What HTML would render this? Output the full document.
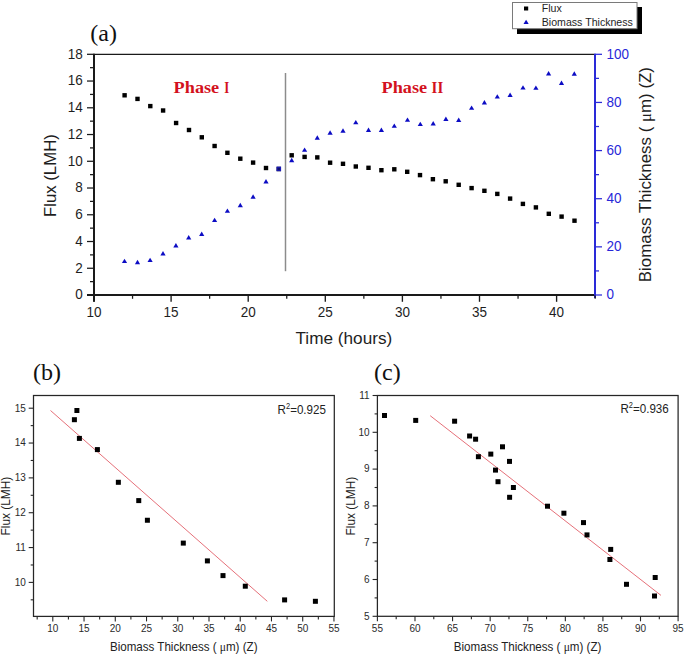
<!DOCTYPE html>
<html><head><meta charset="utf-8"><style>
html,body{margin:0;padding:0;background:#fff;}
body{width:685px;height:655px;overflow:hidden;}
svg{display:block;}
text{font-family:"Liberation Sans",sans-serif;fill:#1e1e1e;}
.ta{font-size:13.5px;}
.tab{fill:#2828d8;}
.tt{font-size:17px;}
.tb{font-size:10px;fill:#2a2a2a;}
.tbt{font-size:11.6px;fill:#222;}
.tr{font-size:11.6px;fill:#222;}
.sup{font-size:7.5px;}
.lg{font-size:10.6px;}
.mu{font-family:"Liberation Serif",serif;}
.lab{font-family:"Liberation Serif",serif;font-size:24px;fill:#111;}
.ph{font-family:"Liberation Serif",serif;font-weight:bold;font-size:17.5px;fill:#d3111d;}
</style></head><body>
<svg width="685" height="655" viewBox="0 0 685 655">
<rect width="685" height="655" fill="#fff"/>
<line x1="94.0" y1="54.3" x2="595.0" y2="54.3" stroke="#1a1a1a" stroke-width="1.2"/>
<line x1="94.0" y1="53.699999999999996" x2="94.0" y2="301.8" stroke="#1a1a1a" stroke-width="2"/>
<line x1="87.0" y1="295.0" x2="595.0" y2="295.0" stroke="#1a1a1a" stroke-width="2"/>
<line x1="595.0" y1="53.699999999999996" x2="595.0" y2="298.0" stroke="#2a2ad8" stroke-width="2"/>
<line x1="87.0" y1="295.00" x2="94.0" y2="295.00" stroke="#1a1a1a" stroke-width="1.25"/>
<text transform="translate(82.8 299.30) scale(1 1.06)" text-anchor="end" class="ta">0</text>
<line x1="90.0" y1="281.63" x2="94.0" y2="281.63" stroke="#1a1a1a" stroke-width="1.25"/>
<line x1="87.0" y1="268.26" x2="94.0" y2="268.26" stroke="#1a1a1a" stroke-width="1.25"/>
<text transform="translate(82.8 272.56) scale(1 1.06)" text-anchor="end" class="ta">2</text>
<line x1="90.0" y1="254.88" x2="94.0" y2="254.88" stroke="#1a1a1a" stroke-width="1.25"/>
<line x1="87.0" y1="241.51" x2="94.0" y2="241.51" stroke="#1a1a1a" stroke-width="1.25"/>
<text transform="translate(82.8 245.81) scale(1 1.06)" text-anchor="end" class="ta">4</text>
<line x1="90.0" y1="228.14" x2="94.0" y2="228.14" stroke="#1a1a1a" stroke-width="1.25"/>
<line x1="87.0" y1="214.77" x2="94.0" y2="214.77" stroke="#1a1a1a" stroke-width="1.25"/>
<text transform="translate(82.8 219.07) scale(1 1.06)" text-anchor="end" class="ta">6</text>
<line x1="90.0" y1="201.39" x2="94.0" y2="201.39" stroke="#1a1a1a" stroke-width="1.25"/>
<line x1="87.0" y1="188.02" x2="94.0" y2="188.02" stroke="#1a1a1a" stroke-width="1.25"/>
<text transform="translate(82.8 192.32) scale(1 1.06)" text-anchor="end" class="ta">8</text>
<line x1="90.0" y1="174.65" x2="94.0" y2="174.65" stroke="#1a1a1a" stroke-width="1.25"/>
<line x1="87.0" y1="161.28" x2="94.0" y2="161.28" stroke="#1a1a1a" stroke-width="1.25"/>
<text transform="translate(82.8 165.58) scale(1 1.06)" text-anchor="end" class="ta">10</text>
<line x1="90.0" y1="147.91" x2="94.0" y2="147.91" stroke="#1a1a1a" stroke-width="1.25"/>
<line x1="87.0" y1="134.53" x2="94.0" y2="134.53" stroke="#1a1a1a" stroke-width="1.25"/>
<text transform="translate(82.8 138.83) scale(1 1.06)" text-anchor="end" class="ta">12</text>
<line x1="90.0" y1="121.16" x2="94.0" y2="121.16" stroke="#1a1a1a" stroke-width="1.25"/>
<line x1="87.0" y1="107.79" x2="94.0" y2="107.79" stroke="#1a1a1a" stroke-width="1.25"/>
<text transform="translate(82.8 112.09) scale(1 1.06)" text-anchor="end" class="ta">14</text>
<line x1="90.0" y1="94.42" x2="94.0" y2="94.42" stroke="#1a1a1a" stroke-width="1.25"/>
<line x1="87.0" y1="81.04" x2="94.0" y2="81.04" stroke="#1a1a1a" stroke-width="1.25"/>
<text transform="translate(82.8 85.34) scale(1 1.06)" text-anchor="end" class="ta">16</text>
<line x1="90.0" y1="67.67" x2="94.0" y2="67.67" stroke="#1a1a1a" stroke-width="1.25"/>
<line x1="87.0" y1="54.30" x2="94.0" y2="54.30" stroke="#1a1a1a" stroke-width="1.25"/>
<text transform="translate(82.8 58.60) scale(1 1.06)" text-anchor="end" class="ta">18</text>
<line x1="94.00" y1="295.0" x2="94.00" y2="301.8" stroke="#1a1a1a" stroke-width="1.35"/>
<text transform="translate(94.00 317.3) scale(1 1.06)" text-anchor="middle" class="ta">10</text>
<line x1="132.55" y1="295.0" x2="132.55" y2="298.8" stroke="#1a1a1a" stroke-width="1.25"/>
<line x1="171.10" y1="295.0" x2="171.10" y2="301.8" stroke="#1a1a1a" stroke-width="1.35"/>
<text transform="translate(171.10 317.3) scale(1 1.06)" text-anchor="middle" class="ta">15</text>
<line x1="209.65" y1="295.0" x2="209.65" y2="298.8" stroke="#1a1a1a" stroke-width="1.25"/>
<line x1="248.20" y1="295.0" x2="248.20" y2="301.8" stroke="#1a1a1a" stroke-width="1.35"/>
<text transform="translate(248.20 317.3) scale(1 1.06)" text-anchor="middle" class="ta">20</text>
<line x1="286.75" y1="295.0" x2="286.75" y2="298.8" stroke="#1a1a1a" stroke-width="1.25"/>
<line x1="325.30" y1="295.0" x2="325.30" y2="301.8" stroke="#1a1a1a" stroke-width="1.35"/>
<text transform="translate(325.30 317.3) scale(1 1.06)" text-anchor="middle" class="ta">25</text>
<line x1="363.85" y1="295.0" x2="363.85" y2="298.8" stroke="#1a1a1a" stroke-width="1.25"/>
<line x1="402.40" y1="295.0" x2="402.40" y2="301.8" stroke="#1a1a1a" stroke-width="1.35"/>
<text transform="translate(402.40 317.3) scale(1 1.06)" text-anchor="middle" class="ta">30</text>
<line x1="440.95" y1="295.0" x2="440.95" y2="298.8" stroke="#1a1a1a" stroke-width="1.25"/>
<line x1="479.50" y1="295.0" x2="479.50" y2="301.8" stroke="#1a1a1a" stroke-width="1.35"/>
<text transform="translate(479.50 317.3) scale(1 1.06)" text-anchor="middle" class="ta">35</text>
<line x1="518.05" y1="295.0" x2="518.05" y2="298.8" stroke="#1a1a1a" stroke-width="1.25"/>
<line x1="556.60" y1="295.0" x2="556.60" y2="301.8" stroke="#1a1a1a" stroke-width="1.35"/>
<text transform="translate(556.60 317.3) scale(1 1.06)" text-anchor="middle" class="ta">40</text>
<line x1="595.15" y1="295.0" x2="595.15" y2="298.8" stroke="#1a1a1a" stroke-width="1.25"/>
<line x1="595.0" y1="295.00" x2="602.0" y2="295.00" stroke="#2a2ad8" stroke-width="1.25"/>
<text transform="translate(606.6 299.30) scale(1 1.06)" class="ta tab">0</text>
<line x1="595.0" y1="270.93" x2="599.0" y2="270.93" stroke="#2a2ad8" stroke-width="1.25"/>
<line x1="595.0" y1="246.86" x2="602.0" y2="246.86" stroke="#2a2ad8" stroke-width="1.25"/>
<text transform="translate(606.6 251.16) scale(1 1.06)" class="ta tab">20</text>
<line x1="595.0" y1="222.79" x2="599.0" y2="222.79" stroke="#2a2ad8" stroke-width="1.25"/>
<line x1="595.0" y1="198.72" x2="602.0" y2="198.72" stroke="#2a2ad8" stroke-width="1.25"/>
<text transform="translate(606.6 203.02) scale(1 1.06)" class="ta tab">40</text>
<line x1="595.0" y1="174.65" x2="599.0" y2="174.65" stroke="#2a2ad8" stroke-width="1.25"/>
<line x1="595.0" y1="150.58" x2="602.0" y2="150.58" stroke="#2a2ad8" stroke-width="1.25"/>
<text transform="translate(606.6 154.88) scale(1 1.06)" class="ta tab">60</text>
<line x1="595.0" y1="126.51" x2="599.0" y2="126.51" stroke="#2a2ad8" stroke-width="1.25"/>
<line x1="595.0" y1="102.44" x2="602.0" y2="102.44" stroke="#2a2ad8" stroke-width="1.25"/>
<text transform="translate(606.6 106.74) scale(1 1.06)" class="ta tab">80</text>
<line x1="595.0" y1="78.37" x2="599.0" y2="78.37" stroke="#2a2ad8" stroke-width="1.25"/>
<line x1="595.0" y1="54.30" x2="602.0" y2="54.30" stroke="#2a2ad8" stroke-width="1.25"/>
<text transform="translate(606.6 58.60) scale(1 1.06)" class="ta tab">100</text>
<line x1="285.5" y1="73" x2="285.5" y2="271.2" stroke="#8c8c8c" stroke-width="1.5"/>
<text x="173.6" y="93.0" class="ph" textLength="45.6" lengthAdjust="spacingAndGlyphs">Phase</text>
<text x="224.2" y="93.0" class="ph" textLength="5.0" lengthAdjust="spacingAndGlyphs">I</text>
<text x="381.5" y="93.2" class="ph" textLength="45.6" lengthAdjust="spacingAndGlyphs">Phase</text>
<text x="431.6" y="93.2" class="ph" textLength="11.6" lengthAdjust="spacingAndGlyphs">II</text>
<rect x="122.40" y="93.10" width="4.4" height="4.4" fill="#000"/>
<rect x="135.30" y="96.70" width="4.4" height="4.4" fill="#000"/>
<rect x="148.10" y="103.90" width="4.4" height="4.4" fill="#000"/>
<rect x="160.90" y="108.30" width="4.4" height="4.4" fill="#000"/>
<rect x="173.90" y="120.80" width="4.4" height="4.4" fill="#000"/>
<rect x="186.80" y="127.80" width="4.4" height="4.4" fill="#000"/>
<rect x="199.60" y="135.10" width="4.4" height="4.4" fill="#000"/>
<rect x="212.40" y="143.80" width="4.4" height="4.4" fill="#000"/>
<rect x="225.20" y="150.60" width="4.4" height="4.4" fill="#000"/>
<rect x="238.10" y="156.50" width="4.4" height="4.4" fill="#000"/>
<rect x="250.90" y="160.40" width="4.4" height="4.4" fill="#000"/>
<rect x="263.80" y="165.80" width="4.4" height="4.4" fill="#000"/>
<rect x="276.60" y="166.80" width="4.4" height="4.4" fill="#000"/>
<rect x="289.50" y="153.10" width="4.4" height="4.4" fill="#000"/>
<rect x="302.40" y="154.70" width="4.4" height="4.4" fill="#000"/>
<rect x="315.10" y="155.20" width="4.4" height="4.4" fill="#000"/>
<rect x="327.90" y="160.50" width="4.4" height="4.4" fill="#000"/>
<rect x="340.80" y="161.60" width="4.4" height="4.4" fill="#000"/>
<rect x="353.60" y="164.30" width="4.4" height="4.4" fill="#000"/>
<rect x="366.30" y="165.60" width="4.4" height="4.4" fill="#000"/>
<rect x="379.20" y="168.00" width="4.4" height="4.4" fill="#000"/>
<rect x="392.10" y="167.10" width="4.4" height="4.4" fill="#000"/>
<rect x="405.00" y="169.60" width="4.4" height="4.4" fill="#000"/>
<rect x="417.80" y="172.90" width="4.4" height="4.4" fill="#000"/>
<rect x="430.70" y="177.00" width="4.4" height="4.4" fill="#000"/>
<rect x="443.50" y="179.10" width="4.4" height="4.4" fill="#000"/>
<rect x="456.50" y="182.60" width="4.4" height="4.4" fill="#000"/>
<rect x="469.40" y="185.90" width="4.4" height="4.4" fill="#000"/>
<rect x="482.20" y="188.60" width="4.4" height="4.4" fill="#000"/>
<rect x="495.10" y="191.70" width="4.4" height="4.4" fill="#000"/>
<rect x="507.90" y="196.40" width="4.4" height="4.4" fill="#000"/>
<rect x="520.70" y="201.70" width="4.4" height="4.4" fill="#000"/>
<rect x="533.70" y="205.20" width="4.4" height="4.4" fill="#000"/>
<rect x="546.60" y="211.60" width="4.4" height="4.4" fill="#000"/>
<rect x="559.40" y="214.40" width="4.4" height="4.4" fill="#000"/>
<rect x="572.30" y="218.50" width="4.4" height="4.4" fill="#000"/>
<rect x="276.5" y="166.6" width="4.6" height="4.6" fill="#1a1ab8"/>
<rect x="277.6" y="167.8" width="2.4" height="2.4" fill="#10106a"/>
<path d="M124.50 258.70L127.10 263.10L121.90 263.10Z" fill="#0c0cc4"/>
<path d="M137.50 259.80L140.10 264.20L134.90 264.20Z" fill="#0c0cc4"/>
<path d="M150.10 257.70L152.70 262.10L147.50 262.10Z" fill="#0c0cc4"/>
<path d="M163.00 251.10L165.60 255.50L160.40 255.50Z" fill="#0c0cc4"/>
<path d="M175.90 243.10L178.50 247.50L173.30 247.50Z" fill="#0c0cc4"/>
<path d="M188.70 235.10L191.30 239.50L186.10 239.50Z" fill="#0c0cc4"/>
<path d="M201.70 231.60L204.30 236.00L199.10 236.00Z" fill="#0c0cc4"/>
<path d="M214.60 217.70L217.20 222.10L212.00 222.10Z" fill="#0c0cc4"/>
<path d="M227.40 208.40L230.00 212.80L224.80 212.80Z" fill="#0c0cc4"/>
<path d="M240.30 202.80L242.90 207.20L237.70 207.20Z" fill="#0c0cc4"/>
<path d="M253.10 194.30L255.70 198.70L250.50 198.70Z" fill="#0c0cc4"/>
<path d="M266.00 179.00L268.60 183.40L263.40 183.40Z" fill="#0c0cc4"/>
<path d="M291.70 157.80L294.30 162.20L289.10 162.20Z" fill="#0c0cc4"/>
<path d="M304.60 147.40L307.20 151.80L302.00 151.80Z" fill="#0c0cc4"/>
<path d="M317.30 135.30L319.90 139.70L314.70 139.70Z" fill="#0c0cc4"/>
<path d="M330.10 130.30L332.70 134.70L327.50 134.70Z" fill="#0c0cc4"/>
<path d="M343.00 128.30L345.60 132.70L340.40 132.70Z" fill="#0c0cc4"/>
<path d="M355.80 119.90L358.40 124.30L353.20 124.30Z" fill="#0c0cc4"/>
<path d="M368.50 127.50L371.10 131.90L365.90 131.90Z" fill="#0c0cc4"/>
<path d="M381.40 127.60L384.00 132.00L378.80 132.00Z" fill="#0c0cc4"/>
<path d="M394.30 123.40L396.90 127.80L391.70 127.80Z" fill="#0c0cc4"/>
<path d="M407.50 117.40L410.10 121.80L404.90 121.80Z" fill="#0c0cc4"/>
<path d="M420.30 121.70L422.90 126.10L417.70 126.10Z" fill="#0c0cc4"/>
<path d="M433.20 121.10L435.80 125.50L430.60 125.50Z" fill="#0c0cc4"/>
<path d="M445.90 116.60L448.50 121.00L443.30 121.00Z" fill="#0c0cc4"/>
<path d="M458.70 117.60L461.30 122.00L456.10 122.00Z" fill="#0c0cc4"/>
<path d="M471.60 105.40L474.20 109.80L469.00 109.80Z" fill="#0c0cc4"/>
<path d="M484.40 100.10L487.00 104.50L481.80 104.50Z" fill="#0c0cc4"/>
<path d="M497.30 94.20L499.90 98.60L494.70 98.60Z" fill="#0c0cc4"/>
<path d="M510.10 92.60L512.70 97.00L507.50 97.00Z" fill="#0c0cc4"/>
<path d="M523.00 85.20L525.60 89.60L520.40 89.60Z" fill="#0c0cc4"/>
<path d="M535.90 85.40L538.50 89.80L533.30 89.80Z" fill="#0c0cc4"/>
<path d="M548.60 71.10L551.20 75.50L546.00 75.50Z" fill="#0c0cc4"/>
<path d="M561.50 80.50L564.10 84.90L558.90 84.90Z" fill="#0c0cc4"/>
<path d="M574.30 71.30L576.90 75.70L571.70 75.70Z" fill="#0c0cc4"/>
<text x="343.9" y="344.2" text-anchor="middle" class="tt" style="font-size:17.2px">Time (hours)</text>
<text transform="translate(55.9 175.6) rotate(-90)" text-anchor="middle" class="tt" style="font-size:16.8px">Flux (LMH)</text>
<text transform="translate(650.6 174.6) rotate(-90)" text-anchor="middle" class="tt" style="font-size:16.9px">Biomass Thickness ( <tspan class="mu">μ</tspan>m) (Z)</text>
<text x="90.3" y="40.7" class="lab">(a)</text>
<rect x="517" y="7" width="125" height="27" fill="#000"/>
<rect x="512.5" y="2.5" width="124.5" height="26.2" fill="#fff" stroke="#7a7a7a" stroke-width="1"/>
<rect x="524" y="6.5" width="4.2" height="4" fill="#000"/>
<path d="M526.1 19.8L528.7 24L523.5 24Z" fill="#0c0cc4"/>
<text x="541.8" y="11.9" class="lg">Flux</text>
<text x="541.8" y="25.8" class="lg">Biomass Thickness</text>
<rect x="33.5" y="395.5" width="300.8" height="220.89999999999998" fill="none" stroke="#262626" stroke-width="1.25"/>
<line x1="28.7" y1="408.20" x2="33.5" y2="408.20" stroke="#262626" stroke-width="1.1"/>
<text x="25.8" y="411.50" text-anchor="end" class="tb">15</text>
<line x1="30.7" y1="425.62" x2="33.5" y2="425.62" stroke="#262626" stroke-width="1.1"/>
<line x1="28.7" y1="443.04" x2="33.5" y2="443.04" stroke="#262626" stroke-width="1.1"/>
<text x="25.8" y="446.34" text-anchor="end" class="tb">14</text>
<line x1="30.7" y1="460.46" x2="33.5" y2="460.46" stroke="#262626" stroke-width="1.1"/>
<line x1="28.7" y1="477.88" x2="33.5" y2="477.88" stroke="#262626" stroke-width="1.1"/>
<text x="25.8" y="481.18" text-anchor="end" class="tb">13</text>
<line x1="30.7" y1="495.30" x2="33.5" y2="495.30" stroke="#262626" stroke-width="1.1"/>
<line x1="28.7" y1="512.72" x2="33.5" y2="512.72" stroke="#262626" stroke-width="1.1"/>
<text x="25.8" y="516.02" text-anchor="end" class="tb">12</text>
<line x1="30.7" y1="530.14" x2="33.5" y2="530.14" stroke="#262626" stroke-width="1.1"/>
<line x1="28.7" y1="547.56" x2="33.5" y2="547.56" stroke="#262626" stroke-width="1.1"/>
<text x="25.8" y="550.86" text-anchor="end" class="tb">11</text>
<line x1="30.7" y1="564.98" x2="33.5" y2="564.98" stroke="#262626" stroke-width="1.1"/>
<line x1="28.7" y1="582.40" x2="33.5" y2="582.40" stroke="#262626" stroke-width="1.1"/>
<text x="25.8" y="585.70" text-anchor="end" class="tb">10</text>
<line x1="30.7" y1="599.82" x2="33.5" y2="599.82" stroke="#262626" stroke-width="1.1"/>
<line x1="37.18" y1="616.4" x2="37.18" y2="619.4" stroke="#262626" stroke-width="1.1"/>
<line x1="52.80" y1="616.4" x2="52.80" y2="621.4" stroke="#262626" stroke-width="1.1"/>
<text x="52.80" y="631.6" text-anchor="middle" class="tb">10</text>
<line x1="68.42" y1="616.4" x2="68.42" y2="619.4" stroke="#262626" stroke-width="1.1"/>
<line x1="84.04" y1="616.4" x2="84.04" y2="621.4" stroke="#262626" stroke-width="1.1"/>
<text x="84.04" y="631.6" text-anchor="middle" class="tb">15</text>
<line x1="99.66" y1="616.4" x2="99.66" y2="619.4" stroke="#262626" stroke-width="1.1"/>
<line x1="115.28" y1="616.4" x2="115.28" y2="621.4" stroke="#262626" stroke-width="1.1"/>
<text x="115.28" y="631.6" text-anchor="middle" class="tb">20</text>
<line x1="130.90" y1="616.4" x2="130.90" y2="619.4" stroke="#262626" stroke-width="1.1"/>
<line x1="146.52" y1="616.4" x2="146.52" y2="621.4" stroke="#262626" stroke-width="1.1"/>
<text x="146.52" y="631.6" text-anchor="middle" class="tb">25</text>
<line x1="162.14" y1="616.4" x2="162.14" y2="619.4" stroke="#262626" stroke-width="1.1"/>
<line x1="177.76" y1="616.4" x2="177.76" y2="621.4" stroke="#262626" stroke-width="1.1"/>
<text x="177.76" y="631.6" text-anchor="middle" class="tb">30</text>
<line x1="193.38" y1="616.4" x2="193.38" y2="619.4" stroke="#262626" stroke-width="1.1"/>
<line x1="209.00" y1="616.4" x2="209.00" y2="621.4" stroke="#262626" stroke-width="1.1"/>
<text x="209.00" y="631.6" text-anchor="middle" class="tb">35</text>
<line x1="224.62" y1="616.4" x2="224.62" y2="619.4" stroke="#262626" stroke-width="1.1"/>
<line x1="240.24" y1="616.4" x2="240.24" y2="621.4" stroke="#262626" stroke-width="1.1"/>
<text x="240.24" y="631.6" text-anchor="middle" class="tb">40</text>
<line x1="255.86" y1="616.4" x2="255.86" y2="619.4" stroke="#262626" stroke-width="1.1"/>
<line x1="271.48" y1="616.4" x2="271.48" y2="621.4" stroke="#262626" stroke-width="1.1"/>
<text x="271.48" y="631.6" text-anchor="middle" class="tb">45</text>
<line x1="287.10" y1="616.4" x2="287.10" y2="619.4" stroke="#262626" stroke-width="1.1"/>
<line x1="302.72" y1="616.4" x2="302.72" y2="621.4" stroke="#262626" stroke-width="1.1"/>
<text x="302.72" y="631.6" text-anchor="middle" class="tb">50</text>
<line x1="318.34" y1="616.4" x2="318.34" y2="619.4" stroke="#262626" stroke-width="1.1"/>
<line x1="333.96" y1="616.4" x2="333.96" y2="621.4" stroke="#262626" stroke-width="1.1"/>
<text x="333.96" y="631.6" text-anchor="middle" class="tb">55</text>
<line x1="50.5" y1="410.5" x2="267.3" y2="601.3" stroke="#e2606a" stroke-width="0.9"/>
<rect x="74.40" y="408.00" width="5" height="5" fill="#000"/>
<rect x="71.90" y="417.20" width="5" height="5" fill="#000"/>
<rect x="76.90" y="435.90" width="5" height="5" fill="#000"/>
<rect x="94.90" y="447.10" width="5" height="5" fill="#000"/>
<rect x="115.85" y="479.80" width="5" height="5" fill="#000"/>
<rect x="136.25" y="498.10" width="5" height="5" fill="#000"/>
<rect x="144.90" y="517.75" width="5" height="5" fill="#000"/>
<rect x="180.80" y="540.60" width="5" height="5" fill="#000"/>
<rect x="204.90" y="558.40" width="5" height="5" fill="#000"/>
<rect x="220.50" y="573.10" width="5" height="5" fill="#000"/>
<rect x="242.80" y="583.70" width="5" height="5" fill="#000"/>
<rect x="282.10" y="597.40" width="5" height="5" fill="#000"/>
<rect x="312.90" y="598.80" width="5" height="5" fill="#000"/>
<text transform="translate(277.6 413.6) scale(1 1.09)" class="tr">R<tspan dy="-4.6" class="sup">2</tspan><tspan dy="4.6">=0.925</tspan></text>
<text transform="translate(183.7 650.8) scale(1 1.05)" text-anchor="middle" class="tbt">Biomass Thickness ( <tspan class="mu">μ</tspan>m) (Z)</text>
<text transform="translate(10.3 506.1) rotate(-90) scale(1 1.05)" text-anchor="middle" class="tbt" style="font-size:11.9px">Flux (LMH)</text>
<text x="33.1" y="380" class="lab">(b)</text>
<rect x="377.4" y="395.5" width="300.70000000000005" height="220.79999999999995" fill="none" stroke="#262626" stroke-width="1.25"/>
<line x1="372.59999999999997" y1="395.50" x2="377.4" y2="395.50" stroke="#262626" stroke-width="1.1"/>
<text x="369.6" y="398.80" text-anchor="end" class="tb">11</text>
<line x1="374.59999999999997" y1="413.90" x2="377.4" y2="413.90" stroke="#262626" stroke-width="1.1"/>
<line x1="372.59999999999997" y1="432.30" x2="377.4" y2="432.30" stroke="#262626" stroke-width="1.1"/>
<text x="369.6" y="435.60" text-anchor="end" class="tb">10</text>
<line x1="374.59999999999997" y1="450.70" x2="377.4" y2="450.70" stroke="#262626" stroke-width="1.1"/>
<line x1="372.59999999999997" y1="469.10" x2="377.4" y2="469.10" stroke="#262626" stroke-width="1.1"/>
<text x="369.6" y="472.40" text-anchor="end" class="tb">9</text>
<line x1="374.59999999999997" y1="487.50" x2="377.4" y2="487.50" stroke="#262626" stroke-width="1.1"/>
<line x1="372.59999999999997" y1="505.90" x2="377.4" y2="505.90" stroke="#262626" stroke-width="1.1"/>
<text x="369.6" y="509.20" text-anchor="end" class="tb">8</text>
<line x1="374.59999999999997" y1="524.30" x2="377.4" y2="524.30" stroke="#262626" stroke-width="1.1"/>
<line x1="372.59999999999997" y1="542.70" x2="377.4" y2="542.70" stroke="#262626" stroke-width="1.1"/>
<text x="369.6" y="546.00" text-anchor="end" class="tb">7</text>
<line x1="374.59999999999997" y1="561.10" x2="377.4" y2="561.10" stroke="#262626" stroke-width="1.1"/>
<line x1="372.59999999999997" y1="579.50" x2="377.4" y2="579.50" stroke="#262626" stroke-width="1.1"/>
<text x="369.6" y="582.80" text-anchor="end" class="tb">6</text>
<line x1="374.59999999999997" y1="597.90" x2="377.4" y2="597.90" stroke="#262626" stroke-width="1.1"/>
<line x1="372.59999999999997" y1="616.30" x2="377.4" y2="616.30" stroke="#262626" stroke-width="1.1"/>
<text x="369.6" y="619.60" text-anchor="end" class="tb">5</text>
<line x1="377.40" y1="616.3" x2="377.40" y2="621.3" stroke="#262626" stroke-width="1.1"/>
<text x="377.40" y="631.6" text-anchor="middle" class="tb">55</text>
<line x1="396.19" y1="616.3" x2="396.19" y2="619.3" stroke="#262626" stroke-width="1.1"/>
<line x1="414.99" y1="616.3" x2="414.99" y2="621.3" stroke="#262626" stroke-width="1.1"/>
<text x="414.99" y="631.6" text-anchor="middle" class="tb">60</text>
<line x1="433.78" y1="616.3" x2="433.78" y2="619.3" stroke="#262626" stroke-width="1.1"/>
<line x1="452.57" y1="616.3" x2="452.57" y2="621.3" stroke="#262626" stroke-width="1.1"/>
<text x="452.57" y="631.6" text-anchor="middle" class="tb">65</text>
<line x1="471.37" y1="616.3" x2="471.37" y2="619.3" stroke="#262626" stroke-width="1.1"/>
<line x1="490.16" y1="616.3" x2="490.16" y2="621.3" stroke="#262626" stroke-width="1.1"/>
<text x="490.16" y="631.6" text-anchor="middle" class="tb">70</text>
<line x1="508.96" y1="616.3" x2="508.96" y2="619.3" stroke="#262626" stroke-width="1.1"/>
<line x1="527.75" y1="616.3" x2="527.75" y2="621.3" stroke="#262626" stroke-width="1.1"/>
<text x="527.75" y="631.6" text-anchor="middle" class="tb">75</text>
<line x1="546.54" y1="616.3" x2="546.54" y2="619.3" stroke="#262626" stroke-width="1.1"/>
<line x1="565.34" y1="616.3" x2="565.34" y2="621.3" stroke="#262626" stroke-width="1.1"/>
<text x="565.34" y="631.6" text-anchor="middle" class="tb">80</text>
<line x1="584.13" y1="616.3" x2="584.13" y2="619.3" stroke="#262626" stroke-width="1.1"/>
<line x1="602.92" y1="616.3" x2="602.92" y2="621.3" stroke="#262626" stroke-width="1.1"/>
<text x="602.92" y="631.6" text-anchor="middle" class="tb">85</text>
<line x1="621.72" y1="616.3" x2="621.72" y2="619.3" stroke="#262626" stroke-width="1.1"/>
<line x1="640.51" y1="616.3" x2="640.51" y2="621.3" stroke="#262626" stroke-width="1.1"/>
<text x="640.51" y="631.6" text-anchor="middle" class="tb">90</text>
<line x1="659.31" y1="616.3" x2="659.31" y2="619.3" stroke="#262626" stroke-width="1.1"/>
<line x1="678.10" y1="616.3" x2="678.10" y2="621.3" stroke="#262626" stroke-width="1.1"/>
<text x="678.10" y="631.6" text-anchor="middle" class="tb">95</text>
<line x1="430.2" y1="415.7" x2="661" y2="595.4" stroke="#e2606a" stroke-width="0.9"/>
<rect x="382.00" y="413.00" width="5" height="5" fill="#000"/>
<rect x="413.20" y="417.90" width="5" height="5" fill="#000"/>
<rect x="452.10" y="418.70" width="5" height="5" fill="#000"/>
<rect x="467.10" y="433.50" width="5" height="5" fill="#000"/>
<rect x="473.10" y="436.70" width="5" height="5" fill="#000"/>
<rect x="500.00" y="444.30" width="5" height="5" fill="#000"/>
<rect x="488.30" y="451.60" width="5" height="5" fill="#000"/>
<rect x="475.90" y="454.20" width="5" height="5" fill="#000"/>
<rect x="507.00" y="458.90" width="5" height="5" fill="#000"/>
<rect x="493.00" y="467.60" width="5" height="5" fill="#000"/>
<rect x="495.50" y="479.20" width="5" height="5" fill="#000"/>
<rect x="510.90" y="485.00" width="5" height="5" fill="#000"/>
<rect x="507.10" y="494.80" width="5" height="5" fill="#000"/>
<rect x="545.00" y="503.70" width="5" height="5" fill="#000"/>
<rect x="561.40" y="510.70" width="5" height="5" fill="#000"/>
<rect x="581.00" y="520.10" width="5" height="5" fill="#000"/>
<rect x="584.50" y="532.40" width="5" height="5" fill="#000"/>
<rect x="608.20" y="546.90" width="5" height="5" fill="#000"/>
<rect x="607.40" y="557.00" width="5" height="5" fill="#000"/>
<rect x="624.00" y="581.80" width="5" height="5" fill="#000"/>
<rect x="652.70" y="575.00" width="5" height="5" fill="#000"/>
<rect x="652.00" y="593.50" width="5" height="5" fill="#000"/>
<text transform="translate(620.4 413.1) scale(1 1.09)" class="tr">R<tspan dy="-4.6" class="sup">2</tspan><tspan dy="4.6">=0.936</tspan></text>
<text transform="translate(527.6 650.8) scale(1 1.05)" text-anchor="middle" class="tbt">Biomass Thickness ( <tspan class="mu">μ</tspan>m) (Z)</text>
<text transform="translate(354.9 506.1) rotate(-90) scale(1 1.05)" text-anchor="middle" class="tbt" style="font-size:11.9px">Flux (LMH)</text>
<text x="374.1" y="380" class="lab">(c)</text>
</svg>
</body></html>
